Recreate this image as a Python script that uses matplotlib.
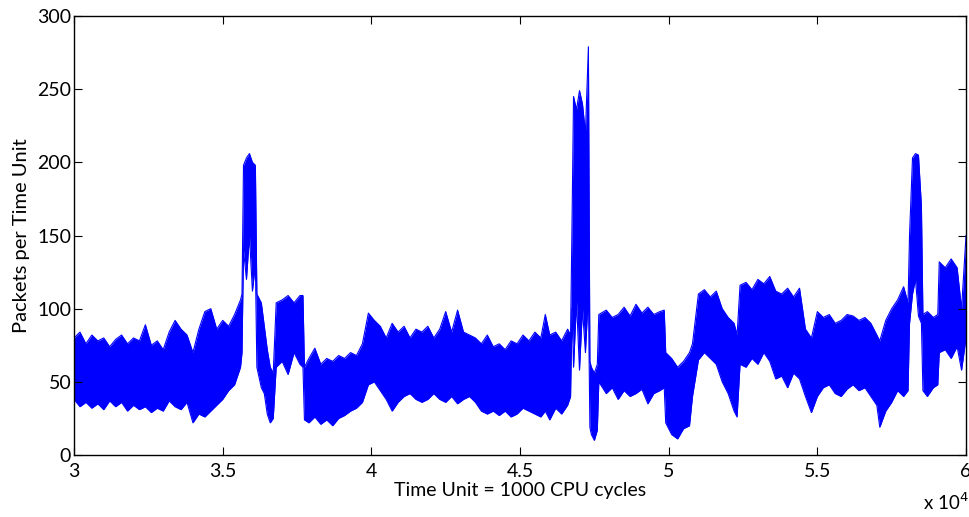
import matplotlib
matplotlib.use('Agg')
import matplotlib.pyplot as plt
import numpy as np

plt.rcParams['font.family'] = ['Lato', 'DejaVu Sans']

# time (x 10^4 time units), lower and upper envelope of packets per time unit
t = [3.00, 3.02, 3.04, 3.06, 3.08, 3.10, 3.12, 3.14, 3.16, 3.18,
     3.20, 3.22, 3.24, 3.26, 3.28, 3.30, 3.32, 3.34, 3.36, 3.38,
     3.40, 3.42, 3.44, 3.46, 3.48, 3.50, 3.52, 3.54, 3.56, 3.565,
     3.57, 3.58, 3.59, 3.60, 3.61, 3.615, 3.63, 3.64, 3.65, 3.66,
     3.67, 3.68, 3.70, 3.72, 3.74, 3.76, 3.77, 3.775, 3.79, 3.81,
     3.83, 3.85, 3.87, 3.89, 3.91, 3.93, 3.95, 3.97, 3.99, 4.01,
     4.03, 4.05, 4.07, 4.09, 4.11, 4.13, 4.15, 4.17, 4.19, 4.21,
     4.23, 4.25, 4.27, 4.29, 4.31, 4.33, 4.35, 4.37, 4.39, 4.41,
     4.43, 4.45, 4.47, 4.49, 4.51, 4.53, 4.55, 4.57, 4.585, 4.60,
     4.62, 4.64, 4.66, 4.67, 4.675, 4.68, 4.69, 4.70, 4.71, 4.72,
     4.73, 4.735, 4.74, 4.75, 4.76, 4.765, 4.79, 4.81, 4.83, 4.85,
     4.87, 4.89, 4.91, 4.93, 4.95, 4.97, 4.985, 4.99, 5.01, 5.03,
     5.05, 5.07, 5.08, 5.10, 5.12, 5.14, 5.16, 5.18, 5.20, 5.22,
     5.23, 5.24, 5.26, 5.28, 5.30, 5.32, 5.34, 5.36, 5.38, 5.40,
     5.42, 5.44, 5.46, 5.48, 5.50, 5.52, 5.54, 5.56, 5.58, 5.60,
     5.62, 5.64, 5.66, 5.68, 5.70, 5.71, 5.73, 5.75, 5.77, 5.79,
     5.805, 5.81, 5.82, 5.83, 5.84, 5.85, 5.855, 5.87, 5.89, 5.905,
     5.91, 5.93, 5.95, 5.97, 5.985, 6.00]
low = [38, 33, 36, 32, 35, 31, 37, 33, 36, 30,
       34, 31, 33, 29, 32, 30, 37, 33, 31, 36,
       22, 28, 26, 30, 34, 38, 44, 48, 60, 70,
       140, 120, 150, 112, 130, 60, 46, 42, 28, 22,
       25, 60, 64, 55, 70, 62, 60, 24, 22, 26,
       21, 24, 20, 25, 27, 30, 32, 36, 48, 50,
       44, 38, 30, 36, 40, 42, 38, 36, 38, 42,
       38, 36, 40, 35, 38, 40, 36, 30, 28, 30,
       27, 30, 26, 28, 32, 30, 28, 26, 30, 24,
       32, 28, 34, 40, 100, 60, 105, 58, 100, 70,
       110, 19, 14, 10, 17, 50, 42, 46, 38, 44,
       40, 42, 45, 35, 42, 44, 46, 22, 14, 11,
       18, 20, 40, 65, 70, 66, 62, 50, 42, 30,
       26, 62, 60, 66, 62, 70, 64, 52, 54, 46,
       56, 52, 40, 29, 40, 46, 48, 42, 40, 45,
       48, 44, 46, 40, 34, 19, 30, 36, 44, 40,
       44, 90, 110, 120, 95, 90, 44, 40, 46, 48,
       70, 72, 66, 74, 58, 80]
high = [80, 84, 76, 82, 78, 80, 74, 79, 82, 76,
        80, 78, 89, 75, 78, 72, 84, 92, 86, 82,
        70, 86, 98, 100, 86, 92, 88, 96, 106, 110,
        198, 203, 206, 200, 198, 110, 104, 88, 72, 60,
        56, 104, 106, 109, 104, 109, 109, 60, 66, 73,
        62, 66, 64, 68, 66, 70, 68, 76, 97, 92,
        88, 80, 90, 84, 88, 80, 86, 84, 88, 80,
        86, 98, 84, 99, 84, 82, 80, 76, 82, 74,
        76, 72, 78, 76, 82, 78, 84, 80, 96, 82,
        84, 78, 86, 82, 160, 245, 236, 249, 240, 220,
        279, 64, 60, 56, 62, 96, 99, 94, 96, 101,
        95, 103, 97, 101, 96, 98, 99, 70, 66, 60,
        64, 70, 76, 110, 113, 108, 112, 100, 94, 90,
        82, 116, 118, 113, 120, 117, 122, 112, 110, 114,
        108, 114, 86, 80, 98, 94, 96, 90, 92, 96,
        95, 92, 94, 90, 82, 78, 92, 100, 106, 115,
        104, 150, 203, 206, 205, 170, 96, 98, 94, 96,
        132, 128, 134, 128, 100, 150]

x_ticks = [3, 3.5, 4, 4.5, 5, 5.5, 6]
x_ticklabels = ['3', '3.5', '4', '4.5', '5', '5.5', '6']
y_ticks = [0, 50, 100, 150, 200, 250, 300]

fig = plt.figure(figsize=(9.7, 5.17), dpi=100)
ax = fig.add_axes([0.0763, 0.1199, 0.9196, 0.8491])

ax.fill_between(t, low, high, color='#0000ff', linewidth=0)
ax.plot(t, high, color='#0000ff', linewidth=0.8)
ax.plot(t, low, color='#0000ff', linewidth=0.8)

ax.set_xlim(3, 6)
ax.set_ylim(0, 300)
ax.set_xticks(x_ticks)
ax.set_xticklabels(x_ticklabels)
ax.set_yticks(y_ticks)
ax.tick_params(direction='in', length=6, width=0.8, labelsize=14,
               top=True, right=True)
ax.tick_params(axis='x', pad=6)
ax.tick_params(axis='y', pad=2)
for s in ax.spines.values():
    s.set_linewidth(1.0)

ax.set_xlabel('Time Unit = 1000 CPU cycles', fontsize=14, labelpad=1)
ax.set_ylabel('Packets per Time Unit', fontsize=14.5, labelpad=5)
fig.text(0.952, 0.008, 'x 10$^{4}$', fontsize=13.5, ha='left', va='bottom')

fig.savefig('out.png', dpi=100)
